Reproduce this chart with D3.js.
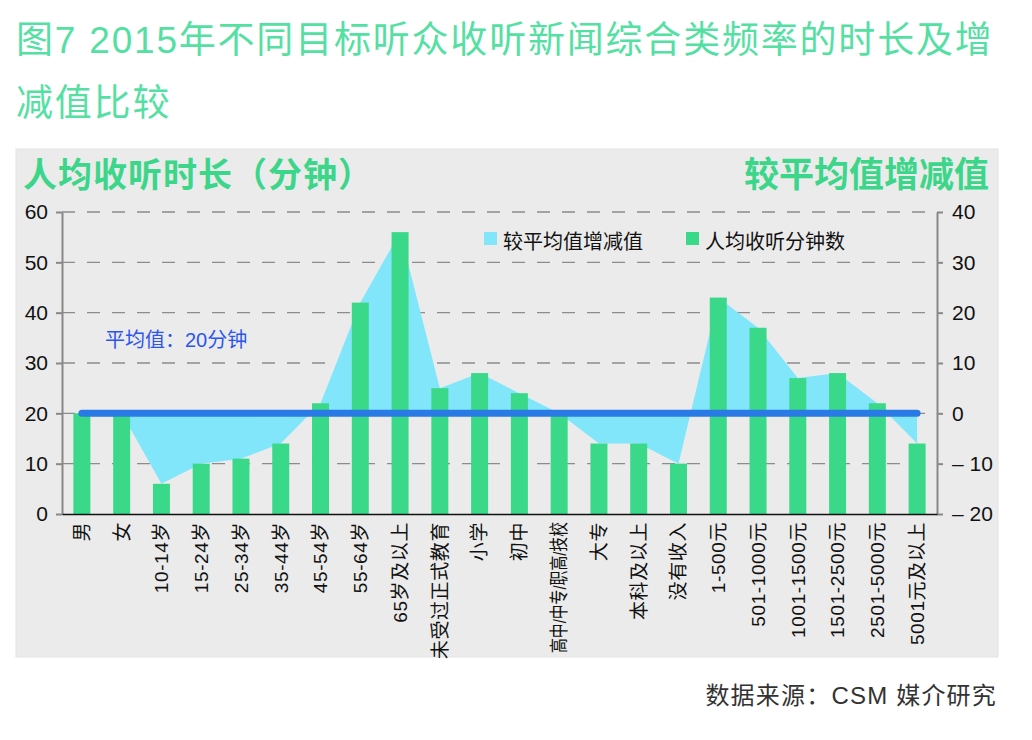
<!DOCTYPE html>
<html>
<head>
<meta charset="utf-8">
<script src="https://cdn.jsdelivr.net/npm/d3@7"></script>
<style>
  body { margin: 0; background: #fff; }
  svg { display: block; }
  .cjk { font-family: "Liberation Sans", "Noto Sans CJK SC", sans-serif; }
</style>
</head>
<body>
<svg id="chart" width="1032" height="740"></svg>
<script>
// ---- data ----
const categories = [
  "男", "女", "10-14岁", "15-24岁", "25-34岁", "35-44岁", "45-54岁", "55-64岁",
  "65岁及以上", "未受过正式教育", "小学", "初中", "高中/中专/职高/技校", "大专",
  "本科及以上", "没有收入", "1-500元", "501-1000元", "1001-1500元",
  "1501-2500元", "2501-5000元", "5001元及以上"
];
// 人均收听分钟数 (left axis)
const minutes = [20, 20, 6, 10, 11, 14, 22, 42, 56, 25, 28, 24, 20, 14, 14, 10, 43, 37, 27, 28, 22, 14];
// 较平均值增减值 (right axis)
const diffs = [0, 0, -14, -10, -9, -6, 2, 22, 36, 5, 8, 4, 0, -6, -6, -10, 23, 17, 7, 8, 2, -6];
const average = 20;
const leftTicks = [0, 10, 20, 30, 40, 50, 60];
const rightTicks = [-20, -10, 0, 10, 20, 30, 40];
const gridTicks = [10, 20, 30, 40, 50, 60];

// ---- layout ----
const plot = { left: 62, right: 937, top: 212, bottom: 514 };
const barW = 17;
const GREEN = "#3ad98a";
const CYAN = "#82e6fb";
const BLUE = "#2a7ae6";

const svg = d3.select("#chart");

// panel
svg.append("rect")
  .attr("x", 16).attr("y", 149)
  .attr("width", 982).attr("height", 508)
  .attr("fill", "#ebebeb")
  .attr("stroke", "#e3e3e3");

// title
const title = svg.append("g").attr("class", "cjk")
  .attr("fill", "#55e0a3")
  .style("font-size", "37px")
  .style("letter-spacing", "1.8px");
title.append("text").attr("x", 16).attr("y", 53)
  .text("图7 2015年不同目标听众收听新闻综合类频率的时长及增");
title.append("text").attr("x", 16).attr("y", 116)
  .text("减值比较");

// axis titles
svg.append("text").attr("class", "cjk")
  .attr("x", 23).attr("y", 187)
  .attr("fill", "#3cd68a")
  .style("font-size", "34px").style("font-weight", "bold")
  .style("letter-spacing", "1px")
  .text("人均收听时长（分钟）");
svg.append("text").attr("class", "cjk")
  .attr("x", 989).attr("y", 187)
  .attr("text-anchor", "end")
  .attr("fill", "#3cd68a")
  .style("font-size", "35px").style("font-weight", "bold")
  .text("较平均值增减值");

// ---- scales ----
const x = d3.scaleBand().domain(categories).range([plot.left, plot.right]).padding(0);
const cx = d => x(d) + x.bandwidth() / 2;
const yL = d3.scaleLinear().domain([0, 60]).range([plot.bottom, plot.top]);
const yR = d3.scaleLinear().domain([-20, 40]).range([plot.bottom, plot.top]);

// gridlines
svg.append("g")
  .selectAll("line")
  .data(gridTicks)
  .join("line")
    .attr("x1", plot.left).attr("x2", plot.right)
    .attr("y1", d => yL(d)).attr("y2", d => yL(d))
    .attr("stroke", "#8c8c8c")
    .attr("stroke-width", 1.3)
    .attr("stroke-dasharray", "13,12");

// area: 较平均值增减值
const area = d3.area()
  .x((d, i) => cx(categories[i]))
  .y0(yR(0))
  .y1(d => yR(d));
svg.append("path")
  .datum(diffs)
  .attr("d", area)
  .attr("fill", CYAN);

// bars: 人均收听分钟数
svg.append("g")
  .selectAll("rect")
  .data(minutes)
  .join("rect")
    .attr("x", (d, i) => cx(categories[i]) - barW / 2)
    .attr("y", d => yL(d))
    .attr("width", barW)
    .attr("height", d => yL(0) - yL(d))
    .attr("fill", GREEN);

// average line
svg.append("line")
  .attr("x1", cx(categories[0])).attr("x2", cx(categories[categories.length - 1]))
  .attr("y1", yL(average)).attr("y2", yL(average))
  .attr("stroke", BLUE)
  .attr("stroke-width", 7)
  .attr("stroke-linecap", "round");

svg.append("text").attr("class", "cjk")
  .attr("x", 105).attr("y", 347)
  .attr("fill", "#2b55f0")
  .style("font-size", "20px")
  .text("平均值：" + average + "分钟");

// ---- axes ----
const tickFont = g => g.selectAll("text")
  .attr("fill", "#111")
  .style("font-family", "Liberation Sans, Arial, sans-serif")
  .style("font-size", "21px");

const axL = svg.append("g")
  .attr("transform", `translate(${plot.left},0)`)
  .call(d3.axisLeft(yL).tickValues(leftTicks).tickSize(6).tickSizeOuter(0).tickPadding(8));
axL.selectAll("path, line").attr("stroke", "#888").attr("stroke-width", 2);
axL.call(tickFont);

const axR = svg.append("g")
  .attr("transform", `translate(${plot.right},0)`)
  .call(d3.axisRight(yR).tickValues(rightTicks).tickSize(6).tickSizeOuter(0).tickPadding(9)
    .tickFormat(d => d < 0 ? "– " + Math.abs(d) : d));
axR.selectAll("path, line").attr("stroke", "#888").attr("stroke-width", 2);
axR.call(tickFont);

const axB = svg.append("g")
  .attr("transform", `translate(0,${plot.bottom})`)
  .call(d3.axisBottom(x).tickSize(0).tickSizeOuter(0));
axB.select(".domain").attr("stroke", "#111").attr("stroke-width", 1.5);
axB.selectAll("text")
  .attr("transform", "rotate(-90)")
  .attr("x", -8).attr("y", 0).attr("dy", "0.36em")
  .attr("text-anchor", "end")
  .attr("fill", "#111")
  .style("font-family", "Liberation Sans, Noto Sans CJK SC, sans-serif")
  .style("font-size", "19px")
  .style("letter-spacing", "0.6px");
// the long education label is squeezed to the same length as its neighbours
axB.selectAll("text")
  .filter(d => d.includes("/"))
  .attr("textLength", 131)
  .attr("lengthAdjust", "spacingAndGlyphs")
  .style("letter-spacing", null);

// ---- legend ----
const legendItems = [
  { label: "较平均值增减值", color: CYAN, x: 484 },
  { label: "人均收听分钟数", color: GREEN, x: 686 }
];
const legend = svg.append("g").selectAll("g")
  .data(legendItems)
  .join("g")
    .attr("transform", d => `translate(${d.x},232)`);
legend.append("rect")
  .attr("width", 13).attr("height", 13)
  .attr("fill", d => d.color);
legend.append("text").attr("class", "cjk")
  .attr("x", 19).attr("y", 17)
  .attr("fill", "#111")
  .style("font-size", "20px")
  .text(d => d.label);

// source
svg.append("text").attr("class", "cjk")
  .attr("x", 997).attr("y", 704)
  .attr("text-anchor", "end")
  .attr("fill", "#333")
  .style("font-size", "24px")
  .style("letter-spacing", "1.2px")
  .text("数据来源：CSM 媒介研究");
</script>
</body>
</html>
